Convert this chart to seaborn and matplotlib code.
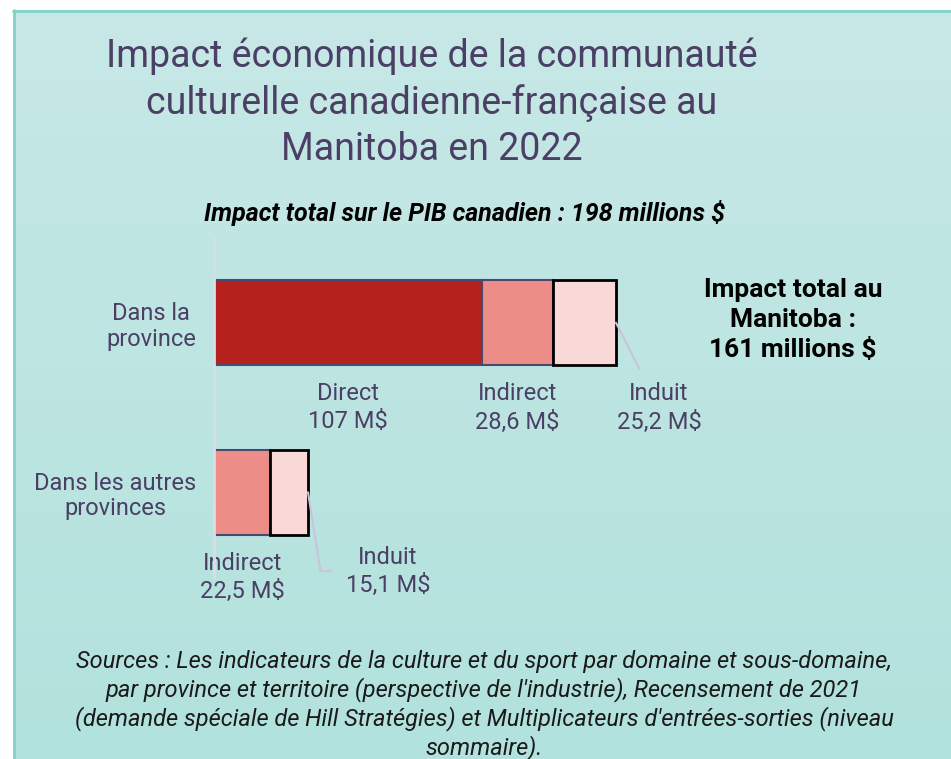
import numpy as np
import pandas as pd
import seaborn as sns
import matplotlib.pyplot as plt

# data
categories = ["Dans la\nprovince", "Dans les autres\nprovinces"]
components = ["Direct", "Indirect", "Induit"]
direct = [107.0, 0.0]
indirect = [28.6, 22.5]
induit = [25.2, 15.1]
value_labels = [["107 M$", "28,6 M$", "25,2 M$"], [None, "22,5 M$", "15,1 M$"]]

title = "Impact économique de la communauté\nculturelle canadienne-française au\nManitoba en 2022"
subtitle = "Impact total sur le PIB canadien : 198 millions $"
side_note = "Impact total au\nManitoba :\n161 millions $"
source = ("Sources : Les indicateurs de la culture et du sport par domaine et sous-domaine,\n"
          "par province et territoire (perspective de l'industrie), Recensement de 2021\n"
          "(demande spéciale de Hill Stratégies) et Multiplicateurs d'entrées-sorties (niveau\n"
          "sommaire).")

colors = {"Direct": "#b5221e", "Indirect": "#ec8d88", "Induit": "#f8d9d7"}
edges = {"Direct": "#4a4a70", "Indirect": "#4a4a70", "Induit": "#000000"}
txt = "#4b3f66"

sns.set_theme(style="white")
plt.rcParams['font.family'] = ['Roboto', 'DejaVu Sans']

W, H = 951, 759
fig = plt.figure(figsize=(W / 100, H / 100), dpi=100)
fig.patch.set_facecolor("white")

# background panel with vertical gradient
bg = fig.add_axes([13 / W, 0, 1 - 13 / W, 1 - 10 / H], zorder=-5)
grad = np.linspace(0, 1, 256)[:, None]
top_c = np.array([199, 232, 230]) / 255
bot_c = np.array([178, 226, 221]) / 255
img = top_c[None, None, :] * (1 - grad[:, :, None]) + bot_c[None, None, :] * grad[:, :, None]
bg.imshow(img, aspect="auto", extent=[0, 1, 0, 1])
bg.set_xlim(0, 1)
bg.set_ylim(0, 1)
bg.axis("off")
fig.add_artist(plt.Line2D([13.5 / W, 13.5 / W], [0, 1 - 10 / H], color="#80d4cc", lw=2))
fig.add_artist(plt.Line2D([13 / W, 1], [1 - 10.5 / H, 1 - 10.5 / H], color="#80d4cc", lw=2))

# bar axes: x=0 at 214px, 2.5 px per unit
ax_left, ax_right = 214, 914
ax_top, ax_bot = 238, 577
ax = fig.add_axes([ax_left / W, 1 - ax_bot / H, (ax_right - ax_left) / W, (ax_bot - ax_top) / H])
ax.set_facecolor("none")

df = pd.DataFrame({"categorie": categories, "Direct": direct, "Indirect": indirect, "Induit": induit})
lefts = {"Direct": np.zeros(2),
         "Indirect": np.array(direct),
         "Induit": np.array(direct) + np.array(indirect)}

for comp in components:
    sub = df[df[comp] > 0]
    sns.barplot(data=sub, x=comp, y="categorie", order=categories, orient="h",
                left=lefts[comp][df[comp] > 0], color=colors[comp], saturation=1,
                edgecolor=edges[comp], linewidth=2.0 if comp == "Induit" else 1.5,
                width=0.5, ax=ax)

ax.set_xlim(0, (ax_right - ax_left) / 2.5)
ax.set_ylim(1.5, -0.5)
ax.set_xlabel("")
ax.set_ylabel("")
ax.set_xticks([])
ax.set_yticks(range(len(categories)))
ax.set_yticklabels(categories, fontsize=17, color=txt, multialignment="center", linespacing=1.15)
ax.tick_params(axis="y", length=0, pad=13)
for s in ["top", "right", "bottom"]:
    ax.spines[s].set_visible(False)
ax.spines["left"].set_color("#dcdce8")
ax.spines["left"].set_linewidth(2)
ax.spines["left"].set_zorder(5)

# segment labels
lab_kw = dict(textcoords="offset pixels", ha="center", va="center",
              fontsize=17, color=txt, linespacing=1.3)
for i in range(len(categories)):
    vals = [direct[i], indirect[i], induit[i]]
    starts = [0, direct[i], direct[i] + indirect[i]]
    for j, comp in enumerate(components):
        if vals[j] <= 0:
            continue
        label = comp + "\n" + value_labels[i][j]
        if comp != "Induit":
            ax.annotate(label, xy=(starts[j] + vals[j] / 2, i), xytext=(0, -85), **lab_kw)
        elif i == 0:
            end = starts[j] + vals[j]
            ax.annotate(label, xy=(end, i), xytext=(43, -85),
                        arrowprops=dict(arrowstyle="-", color="#cbc3da", lw=1.5,
                                        shrinkA=8, shrinkB=0), **lab_kw)
        else:
            end = starts[j] + vals[j]
            ax.annotate(label, xy=(end, i), xytext=(80, -79),
                        arrowprops=dict(arrowstyle="-", color="#cbc3da", lw=1.5,
                                        shrinkA=8, shrinkB=0,
                                        connectionstyle="angle,angleA=0,angleB=-81,rad=0"),
                        **lab_kw)

# texts
fig.text(432 / W, 1 - 103 / H, title, ha="center", va="center", fontsize=27,
         color=txt, linespacing=1.3)
fig.text(465 / W, 1 - 213 / H, subtitle, ha="center", va="center", fontsize=18,
         fontweight="bold", fontstyle="italic", color="black")
fig.text(793 / W, 1 - 320 / H, side_note, ha="center", va="center", fontsize=19,
         fontweight="bold", color="black", linespacing=1.33)
fig.text(484 / W, 1 - 705 / H, source, ha="center", va="center", fontsize=17,
         fontstyle="italic", color="#1a1a1a", linespacing=1.21)

fig.savefig("out.png", dpi=100)
